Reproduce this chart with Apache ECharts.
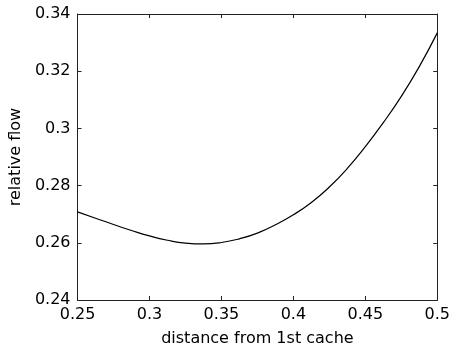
<!DOCTYPE html>
<html><head><meta charset="utf-8">
<script src="https://cdn.jsdelivr.net/npm/echarts@6/dist/echarts.min.js"></script>
<style>html,body{margin:0;padding:0;background:#fff}#c{width:453px;height:352px}</style>
</head><body><div id="c"></div>
<script>
const distance = [0.25, 0.2625, 0.275, 0.2875, 0.30, 0.3125, 0.325, 0.3375, 0.35, 0.3625, 0.375, 0.3875, 0.40, 0.4125, 0.425, 0.4375, 0.45, 0.4625, 0.475, 0.4875, 0.50];
const relFlow  = [0.2708, 0.2686, 0.2664, 0.2643, 0.2624, 0.2609, 0.2599, 0.2596, 0.2601, 0.2614, 0.2634, 0.2663, 0.2698, 0.2741, 0.2795, 0.2860, 0.2936, 0.3020, 0.3112, 0.3216, 0.3334];
const xTicks = [0.25, 0.3, 0.35, 0.4, 0.45, 0.5];
const yTicks = [0.24, 0.26, 0.28, 0.3, 0.32, 0.34];

const font = 'DejaVu Sans';
const axisCol = '#222';
const chart = echarts.init(document.getElementById('c'));
const fmt = v => String(+v.toFixed(2));
chart.setOption({
  animation: false,
  grid: {left: 73, top: 14, right: 15, bottom: 51},
  xAxis: [{
    type: 'value', min: xTicks[0], max: xTicks[xTicks.length - 1], interval: 0.05,
    name: 'distance from 1st cache', nameLocation: 'middle', nameGap: 31,
    nameTextStyle: {fontFamily: font, fontSize: 16, color: '#000'},
    axisLine: {lineStyle: {color: axisCol, width: 1}},
    axisTick: {inside: true, length: 4, lineStyle: {color: axisCol}},
    axisLabel: {fontFamily: font, fontSize: 16, color: '#000', margin: 7, formatter: fmt},
    splitLine: {show: false}
  }, {
    type: 'value', position: 'top', min: xTicks[0], max: xTicks[xTicks.length - 1], interval: 0.05,
    axisLine: {show: true, lineStyle: {color: axisCol, width: 1}},
    axisTick: {inside: true, length: 4, lineStyle: {color: axisCol}},
    axisLabel: {show: false}, splitLine: {show: false}
  }],
  yAxis: [{
    type: 'value', min: yTicks[0], max: yTicks[yTicks.length - 1], interval: 0.02,
    name: 'relative flow', nameLocation: 'middle', nameGap: 46,
    nameTextStyle: {fontFamily: font, fontSize: 16, color: '#000'},
    axisLine: {show: true, lineStyle: {color: axisCol, width: 1}},
    axisTick: {show: true, inside: true, length: 4, lineStyle: {color: axisCol}},
    axisLabel: {fontFamily: font, fontSize: 16, color: '#000', margin: 7, formatter: fmt},
    splitLine: {show: false}
  }, {
    type: 'value', position: 'right', min: yTicks[0], max: yTicks[yTicks.length - 1], interval: 0.02,
    axisLine: {show: true, lineStyle: {color: axisCol, width: 1}},
    axisTick: {show: true, inside: true, length: 4, lineStyle: {color: axisCol}},
    axisLabel: {show: false}, splitLine: {show: false}
  }],
  series: [{
    type: 'line', xAxisIndex: 0, yAxisIndex: 0,
    data: distance.map((d, i) => [d, relFlow[i]]),
    smooth: 0.5, showSymbol: false,
    lineStyle: {color: '#000', width: 1.2}
  }]
});
</script></body></html>
